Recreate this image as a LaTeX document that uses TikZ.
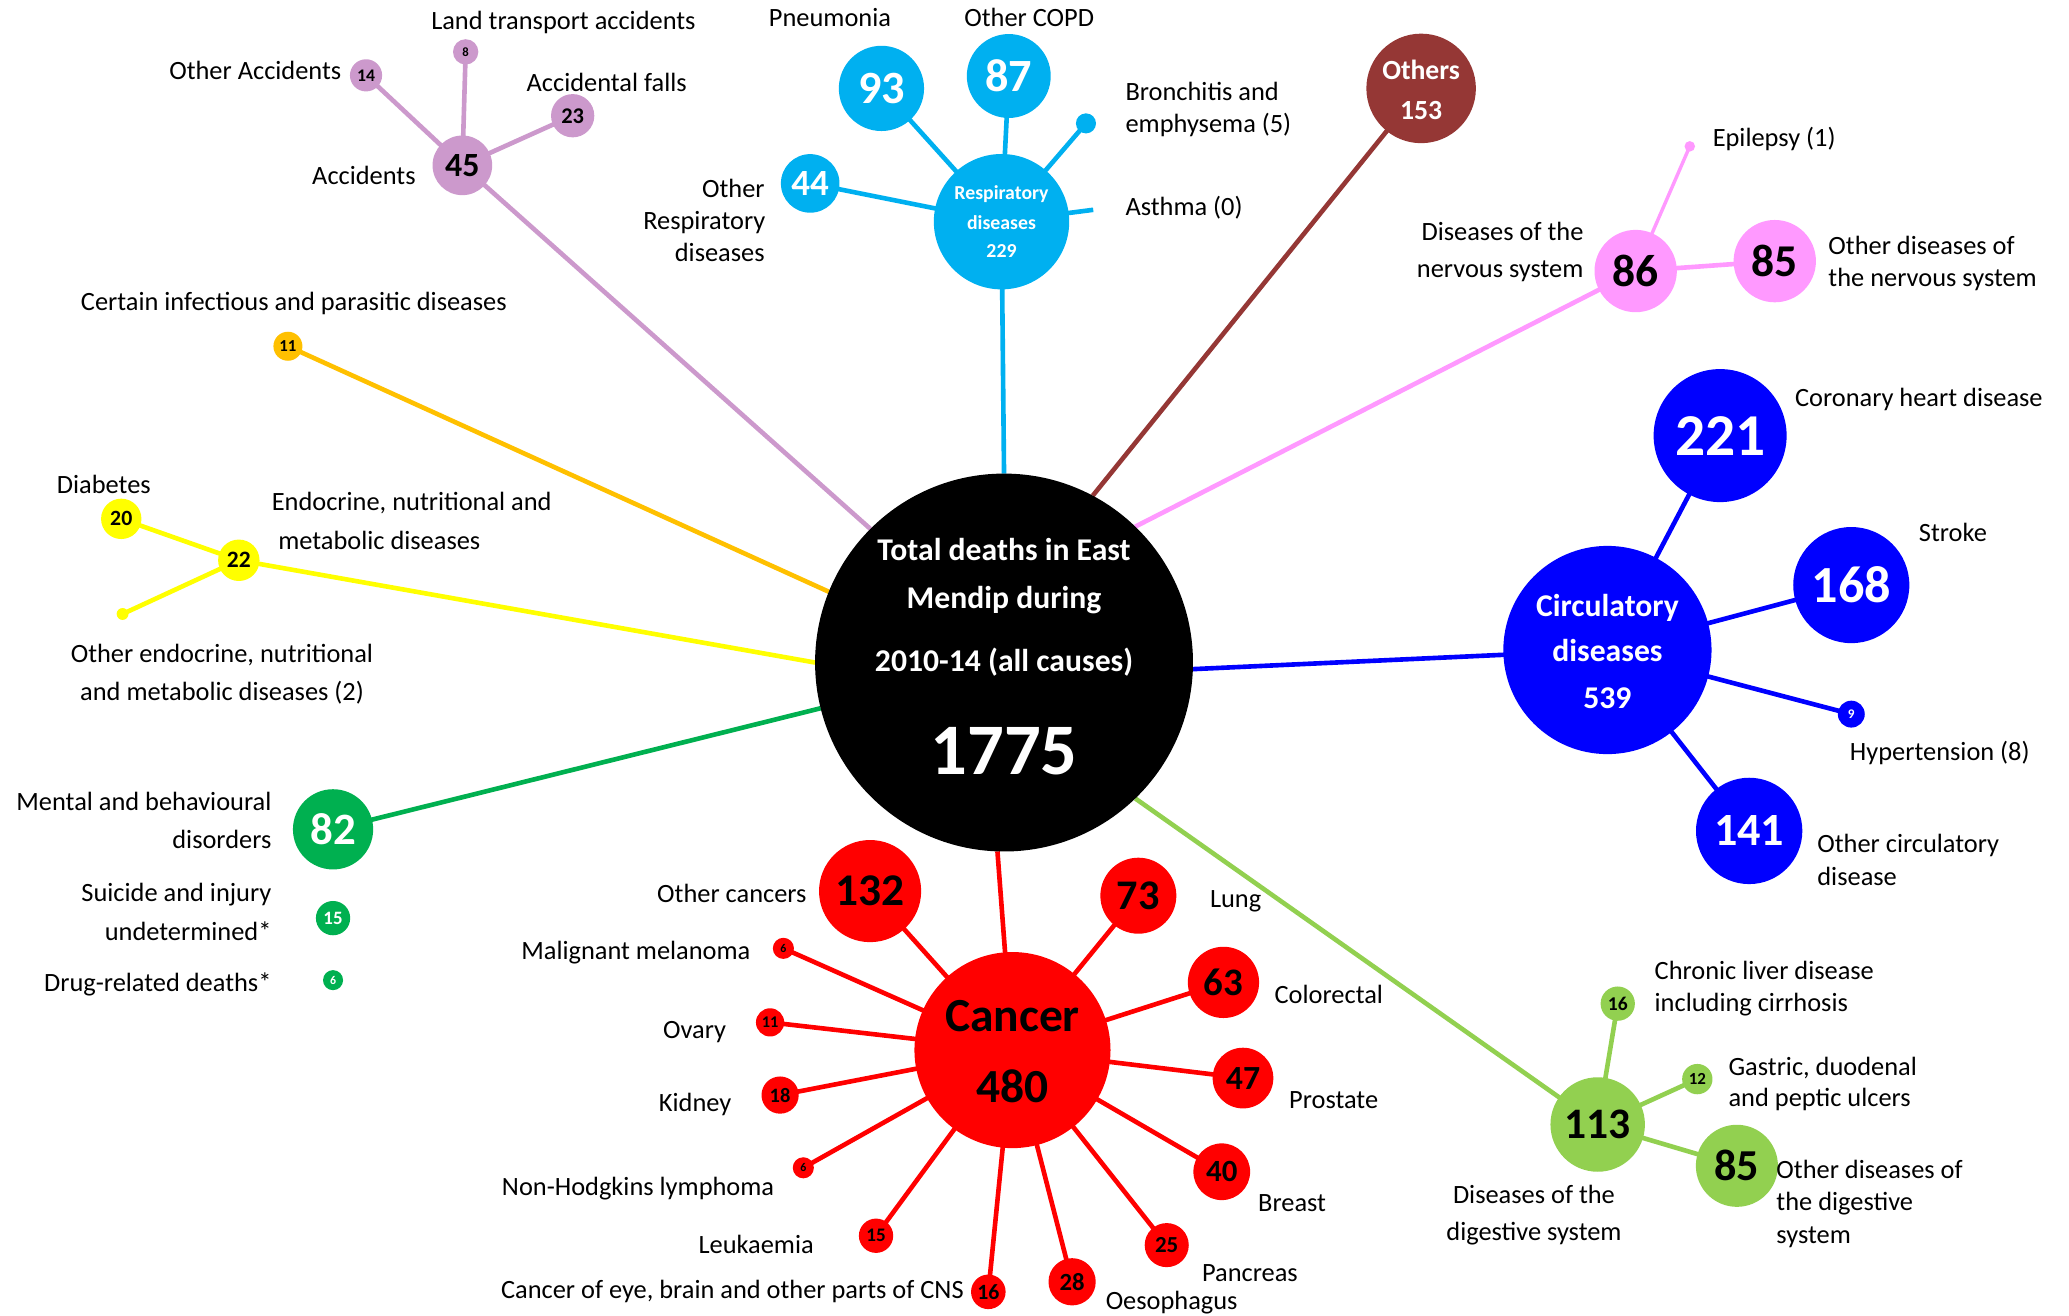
\documentclass[tikz,border=0pt]{standalone}
\usepackage{fontspec}
\setmainfont{Carlito}
\usetikzlibrary{backgrounds}
\definecolor{cResp}{RGB}{0,176,240}
\definecolor{cLil}{RGB}{204,153,204}
\definecolor{cOrg}{RGB}{255,192,0}
\definecolor{cYel}{RGB}{255,255,0}
\definecolor{cGrn}{RGB}{0,176,80}
\definecolor{cRed}{RGB}{255,0,0}
\definecolor{cBrn}{RGB}{149,55,53}
\definecolor{cPnk}{RGB}{255,153,255}
\definecolor{cBlu}{RGB}{0,0,255}
\definecolor{cLgr}{RGB}{146,208,80}
\tikzset{
  bub/.style n args={3}{circle, inner sep=0pt, outer sep=0pt, minimum size=#1pt, fill=#2, text=#3},
  fs/.style={font=\bfseries\fontsize{#1}{#1}\selectfont},
  lab/.style={inner sep=0pt, outer sep=0pt, font=\fontsize{20}{24}\selectfont},
  conn/.style={line width=3.5pt},
}
\begin{document}
\begin{tikzpicture}[x=1pt,y=-1pt]
\useasboundingbox (0,0) rectangle (1568,996.6);
% ---------- centre ----------
\node[bub={286.4}{black}{white}] (tot) at (760.9,502.1) {};
\node[anchor=base, text=white, fs=24] (tot1) at (760.9,424.9) {Total deaths in East};
\node[anchor=base, text=white, fs=24] (tot2) at (760.9,461.1) {Mendip during};
\node[anchor=base, text=white, fs=24] (tot3) at (760.9,508.6) {2010-14 (all causes)};
\node[anchor=base, text=white, fs=55] (tot4) at (760.9,586.9) {1775};
% ---------- respiratory ----------
\node[bub={102.6}{cResp}{white}] (resp) at (759,168) {};
\node[anchor=base, text=white, fs=15] (resp1) at (759,151.1) {Respiratory};
\node[anchor=base, text=white, fs=15] (resp2) at (759,173.8) {diseases};
\node[anchor=base, text=white, fs=15] (resp3) at (759,195.3) {229};
\node[bub={64.6}{cResp}{white}, fs=35] (r93) at (668,67) {93};
\node[bub={63.6}{cResp}{white}, fs=35] (r87) at (764.5,57.6) {87};
\node[bub={44.4}{cResp}{white}, fs=28] (r44) at (614,139) {44};
\node[bub={15.2}{cResp}{white}] (rbr) at (823,93.5) {};
\coordinate (rasth) at (828.5,159);
\node[lab, anchor=base] (lpneu) at (629,20) {Pneumonia};
\node[lab, anchor=base] (lcopd) at (780,20) {Other COPD};
\node[lab, anchor=base west] (lbr1) at (853,76.2) {Bronchitis and};
\node[lab, anchor=base west] (lbr2) at (853,100.7) {emphysema (5)};
\node[lab, anchor=base west] (lasth) at (853,163) {Asthma (0)};
\node[lab, anchor=base east] (lor1) at (579.5,149.6) {Other};
\node[lab, anchor=base east] (lor2) at (580,174.1) {Respiratory};
\node[lab, anchor=base east] (lor3) at (579.5,198.4) {diseases};
% ---------- accidents ----------
\node[bub={45.2}{cLil}{black}, fs=25.7] (a45) at (350.4,125.3) {45};
\node[bub={24.4}{cLil}{black}, fs=13.4] (a14) at (277.4,57.1) {14};
\node[bub={19.2}{cLil}{black}, fs=9.6] (a8) at (352.9,39.3) {8};
\node[bub={32.8}{cLil}{black}, fs=17] (a23) at (434,87.7) {23};
\node[lab, anchor=base] (lland) at (427,22.4) {Land transport accidents};
\node[lab, anchor=base east] (loacc) at (258.6,59.9) {Other Accidents};
\node[lab, anchor=base] (lfall) at (459.8,69.7) {Accidental falls};
\node[lab, anchor=base east] (lacc) at (315,140) {Accidents};
% ---------- infectious ----------
\node[bub={22}{cOrg}{black}, fs=12.7] (i11) at (218.2,262.4) {11};
\node[lab, anchor=base] (linf) at (222.7,235) {Certain infectious and parasitic diseases};
% ---------- endocrine ----------
\node[bub={31.4}{cYel}{black}, fs=17.8] (e22) at (181,424.6) {22};
\node[bub={30.6}{cYel}{black}, fs=16.5] (e20) at (91.9,393.2) {20};
\node[bub={9}{cYel}{black}] (e2) at (92.9,465.3) {};
\node[lab, anchor=base] (ldia) at (78.7,374.2) {Diabetes};
\node[lab, anchor=base west] (lend1) at (206,387) {Endocrine, nutritional and};
\node[lab, anchor=base west] (lend2) at (210.9,416.6) {metabolic diseases};
\node[lab, anchor=base] (loend1) at (168.2,501.9) {Other endocrine, nutritional};
\node[lab, anchor=base] (loend2) at (168.3,531) {and metabolic diseases (2)};
% ---------- mental ----------
\node[bub={60.8}{cGrn}{white}, fs=34] (m82) at (252.4,628.5) {82};
\node[bub={26}{cGrn}{white}, fs=14.3] (m15) at (252.4,695.8) {15};
\node[bub={15.2}{cGrn}{white}, fs=9] (m6) at (252.4,742.8) {6};
\node[lab, anchor=base east] (lmen1) at (205.7,614.2) {Mental and behavioural};
\node[lab, anchor=base east] (lmen2) at (205.7,642.9) {disorders};
\node[lab, anchor=base east] (lsui1) at (205.7,683.5) {Suicide and injury};
\node[lab, anchor=base east] (lsui2) at (205.7,713) {undetermined*};
\node[lab, anchor=base east] (ldrug) at (205.7,751.2) {Drug-related deaths*};
% ---------- cancer ----------
\node[bub={148.6}{cRed}{black}] (canc) at (767.3,795.8) {};
\node[anchor=base, text=black, fs=36] (canc1) at (767.3,781.9) {Cancer};
\node[anchor=base, text=black, fs=36] (canc2) at (767.3,835.5) {480};
\node[bub={77.4}{cRed}{black}, fs=34.4] (c132) at (659.4,675.3) {132};
\node[bub={57.6}{cRed}{black}, fs=32] (c73) at (862.7,678.8) {73};
\node[bub={54}{cRed}{black}, fs=29.5] (c63) at (927.2,744.5) {63};
\node[bub={46}{cRed}{black}, fs=25.6] (c47) at (942,817) {47};
\node[bub={43}{cRed}{black}, fs=23.4] (c40) at (925.9,888) {40};
\node[bub={33.4}{cRed}{black}, fs=17.4] (c25) at (884.2,943.6) {25};
\node[bub={35.8}{cRed}{black}, fs=18.7] (c28) at (812.5,971.4) {28};
\node[bub={26.2}{cRed}{black}, fs=16.5] (c16) at (749,979) {16};
\node[bub={26}{cRed}{black}, fs=14.5] (c15) at (663.9,936.5) {15};
\node[bub={16}{cRed}{black}, fs=9] (c6b) at (608.8,885) {6};
\node[bub={28.2}{cRed}{black}, fs=15.5] (c18) at (591.2,829.9) {18};
\node[bub={21.4}{cRed}{black}, fs=12.4] (c11) at (583.6,774.8) {11};
\node[bub={16}{cRed}{black}, fs=9] (c6a) at (593.7,718.7) {6};
\node[lab, anchor=base east] (lothc) at (611.2,683.6) {Other cancers};
\node[lab, anchor=base east] (lmel) at (568.7,727.3) {Malignant melanoma};
\node[lab, anchor=base east] (lova) at (550.2,787.3) {Ovary};
\node[lab, anchor=base east] (lkid) at (554.2,842.1) {Kidney};
\node[lab, anchor=base east] (lnhl) at (586.7,906) {Non-Hodgkins lymphoma};
\node[lab, anchor=base east] (lleu) at (616.7,949.6) {Leukaemia};
\node[lab, anchor=base east] (lcns) at (730.3,984.1) {Cancer of eye, brain and other parts of CNS};
\node[lab, anchor=base west] (llung) at (917,688.1) {Lung};
\node[lab, anchor=base west] (lcol) at (966,760.2) {Colorectal};
\node[lab, anchor=base west] (lpro) at (977,839.9) {Prostate};
\node[lab, anchor=base west] (lbre) at (953.5,918) {Breast};
\node[lab, anchor=base west] (lpan) at (911,971.3) {Pancreas};
\node[lab, anchor=base west] (loes) at (838,992.5) {Oesophagus};
% ---------- others ----------
\node[bub={83}{cBrn}{white}] (oth) at (1077,67) {};
\node[anchor=base, text=white, fs=21] (oth1) at (1077,60.5) {Others};
\node[anchor=base, text=white, fs=21] (oth2) at (1077,90.5) {153};
% ---------- nervous ----------
\node[bub={62.4}{cPnk}{black}, fs=34.5] (n86) at (1239.6,205.4) {86};
\node[bub={62.4}{cPnk}{black}, fs=34.5] (n85) at (1345,197.9) {85};
\node[bub={8}{cPnk}{black}] (nep) at (1280.6,110.9) {};
\node[lab, anchor=base west] (lepi) at (1298,111.4) {Epilepsy (1)};
\node[lab, anchor=base east] (lner1) at (1200,182.6) {Diseases of the};
\node[lab, anchor=base east] (lner2) at (1200,210.5) {nervous system};
\node[lab, anchor=base west] (lon1) at (1385.7,192.5) {Other diseases of};
\node[lab, anchor=base west] (lon2) at (1385.7,217.4) {the nervous system};
% ---------- circulatory ----------
\node[bub={157.8}{cBlu}{white}] (circ) at (1218.2,492.6) {};
\node[anchor=base, text=white, fs=24] (circ1) at (1218.2,467.4) {Circulatory};
\node[anchor=base, text=white, fs=24] (circ2) at (1218.2,501.5) {diseases};
\node[anchor=base, text=white, fs=24] (circ3) at (1218.2,537) {539};
\node[bub={100.8}{cBlu}{white}, fs=45] (b221) at (1303.6,330.1) {221};
\node[bub={88}{cBlu}{white}, fs=39.5] (b168) at (1403,443.4) {168};
\node[bub={20.4}{cBlu}{white}, fs=10] (b9) at (1403,541.2) {9};
\node[bub={80.6}{cBlu}{white}, fs=35] (b141) at (1325.6,629.7) {141};
\node[lab, anchor=base west] (lchd) at (1360.4,308.3) {Coronary heart disease};
\node[lab, anchor=base] (lstr) at (1480,410.7) {Stroke};
\node[lab, anchor=base west] (lhyp) at (1402,576.5) {Hypertension (8)};
\node[lab, anchor=base west] (locd1) at (1377.3,646.4) {Other circulatory};
\node[lab, anchor=base west] (locd2) at (1377.3,671.4) {disease};
% ---------- digestive ----------
\node[bub={71.6}{cLgr}{black}, fs=33] (d113) at (1210.8,852.2) {113};
\node[bub={26}{cLgr}{black}, fs=14.8] (d16) at (1226,760.6) {16};
\node[bub={23}{cLgr}{black}, fs=12.8] (d12) at (1286.3,817.8) {12};
\node[bub={62.2}{cLgr}{black}, fs=33.5] (d85) at (1316.3,883.5) {85};
\node[lab, anchor=base west] (lliv1) at (1254,742.3) {Chronic liver disease};
\node[lab, anchor=base west] (lliv2) at (1254,766.2) {including cirrhosis};
\node[lab, anchor=base west] (lgas1) at (1310,814.9) {Gastric, duodenal};
\node[lab, anchor=base west] (lgas2) at (1310,838.9) {and peptic ulcers};
\node[lab, anchor=base west] (lod1) at (1346.3,892.8) {Other diseases of};
\node[lab, anchor=base west] (lod2) at (1346.3,917.2) {the digestive};
\node[lab, anchor=base west] (lod3) at (1346.3,942.1) {system};
\node[lab, anchor=base] (ldig1) at (1162.5,912.1) {Diseases of the};
\node[lab, anchor=base] (ldig2) at (1162.5,940.4) {digestive system};
% ---------- connectors ----------
\begin{scope}[on background layer]
  \draw[conn, cResp] (resp.center) -- (tot.90.5);
  \draw[conn, cResp] (resp.center) -- (r93.center);
  \draw[conn, cResp] (resp.center) -- (r87.center);
  \draw[conn, cResp] (resp.center) -- (r44.center);
  \draw[conn, cResp] (resp.center) -- (rbr.center);
  \draw[conn, cResp] (resp.center) -- (rasth);
  \draw[conn, cLil] (a45.center) -- (tot.135.7);
  \draw[conn, cLil] (a45.center) -- (a14.center);
  \draw[conn, cLil] (a45.center) -- (a8.center);
  \draw[conn, cLil] (a45.center) -- (a23.center);
  \draw[conn, cOrg] (i11.center) -- (tot.158.8);
  \draw[conn, cYel] (e22.center) -- (tot.180.2);
  \draw[conn, cYel] (e22.center) -- (e20.center);
  \draw[conn, cYel] (e22.center) -- (e2.center);
  \draw[conn, cGrn] (m82.center) -- (tot.194.7);
  \draw[conn, cRed] (canc.center) -- (tot.268.7);
  \foreach \c in {c132,c73,c63,c47,c40,c25,c28,c16,c15,c6b,c18,c11,c6a}
    \draw[conn, cRed] (canc.center) -- (\c.center);
  \draw[conn, cBrn] (oth.center) -- (tot.62.3);
  \draw[conn, cPnk] (n86.center) -- (tot.46.2);
  \draw[conn, cPnk] (n86.center) -- (n85.center);
  \draw[line width=2.6pt, cPnk] (n86.center) -- (nep.center);
  \draw[conn, cBlu] (circ.center) -- (tot.358.2);
  \foreach \c in {b221,b168,b9,b141}
    \draw[conn, cBlu] (circ.center) -- (\c.center);
  \draw[conn, cLgr] (d113.center) -- (tot.314.9);
  \foreach \c in {d16,d12,d85}
    \draw[conn, cLgr] (d113.center) -- (\c.center);
\end{scope}
\end{tikzpicture}
\end{document}
